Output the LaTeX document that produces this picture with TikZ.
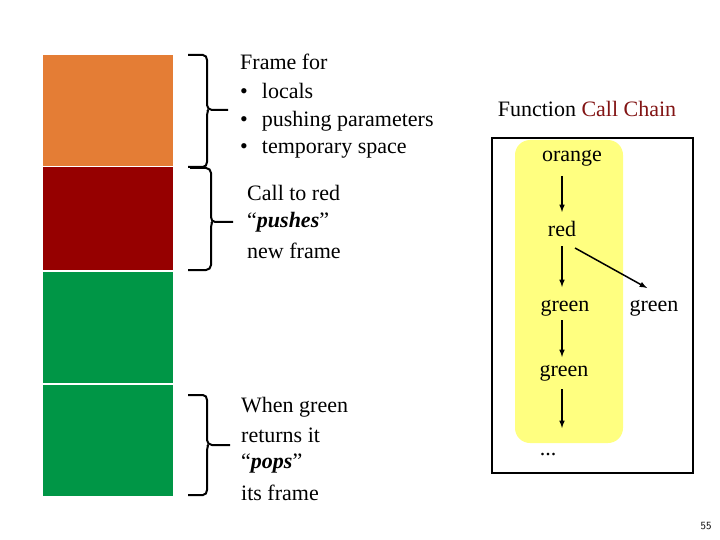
\documentclass[tikz,border=0pt]{standalone}
\usepackage{fontspec}
\setmainfont{Liberation Serif}
\begin{document}
\begin{tikzpicture}[x=1pt,y=-1pt,
  txt/.style={anchor=west,inner sep=0pt,font=\fontsize{22}{22}\selectfont},
  cn/.style={inner sep=0pt,font=\fontsize{22}{22}\selectfont},
  arr/.style={-latex,line width=1.5pt},
  br/.style={line width=2pt}]
\useasboundingbox (0,0) rectangle (720,540);
\fill[white] (0,0) rectangle (720,540);
\definecolor{cor}{RGB}{228,125,53}
\definecolor{cred}{RGB}{150,0,0}
\definecolor{cgr}{RGB}{0,150,70}
\definecolor{cyel}{RGB}{255,255,128}
\definecolor{tred}{RGB}{130,20,20}
\fill[cor] (43,55) rectangle (173,166);
\fill[cred] (43,167) rectangle (173,270);
\fill[cgr] (43,272) rectangle (173,383);
\fill[cgr] (43,385) rectangle (173,496);
% braces
\draw[br] (188,55) -- (203,55) to[out=0,in=90] (207,60) -- (207,105) to[out=-90,in=180] (212,110) -- (228,110);
\draw[br] (207,110) to[out=0,in=90] (207,115) -- (207,162) to[out=-90,in=0] (203,167) -- (188,167);
\draw[br] (190,168) -- (206,168) to[out=0,in=90] (211,173) -- (211,217) to[out=-90,in=180] (215,222) -- (233,222);
\draw[br] (211,222) to[out=0,in=90] (211,227) -- (211,265) to[out=-90,in=0] (206,270) -- (188,270);
\draw[br] (188,395) -- (203,395) to[out=0,in=90] (207,400) -- (207,440) to[out=-90,in=180] (212,445) -- (230,445);
\draw[br] (207,445) to[out=0,in=90] (207,450) -- (207,490) to[out=-90,in=0] (203,495) -- (188,495);
% left texts
\node[txt] (f1) at (240,62) {Frame for};
\node[txt] (b1) at (240,91) {•\hspace{14pt}locals};
\node[txt] (b2) at (240,121) {•\hspace{14pt}pushing parameters};
\node[txt] (b3) at (240,150) {•\hspace{14pt}temporary space};
\node[txt] (c1) at (247,193) {Call to red};
\node[txt] (c2) at (247,222) {“\textbf{\textit{pushes}}”};
\node[txt] (c3) at (247,251) {new frame};
\node[txt] (w1) at (241,407) {When green};
\node[txt] (w2) at (241,435) {returns it};
\node[txt] (w3) at (241,464) {“\textbf{\textit{pops}}”};
\node[txt] (w4) at (241,493) {its frame};
% chain
\node[cn] (title) at (587,109) {Function \textcolor{tred}{Call Chain}};
\draw[line width=2pt] (492,138) rectangle (693,473);
\fill[cyel,rounded corners=15pt] (515,140) rectangle (623,443);
\node[cn] (o) at (572,158) {orange};
\node[cn] (r) at (562,229) {red};
\node[cn] (g1) at (565,308) {green};
\node[cn] (g2) at (654,308) {green};
\node[cn] (g3) at (564,373) {green};
\node[cn] (d) at (548,455) {...};
\draw[arr] (562,176) -- (562,212);
\draw[arr] (562,246) -- (562,287);
\draw[arr] (562,320) -- (562,357);
\draw[arr] (562,389) -- (562,428);
\draw[arr] (575,248) -- (647,288);
\node[inner sep=0pt,font=\fontsize{11}{11}\selectfont\sffamily] (pg) at (706,526) {55};
\end{tikzpicture}
\end{document}
